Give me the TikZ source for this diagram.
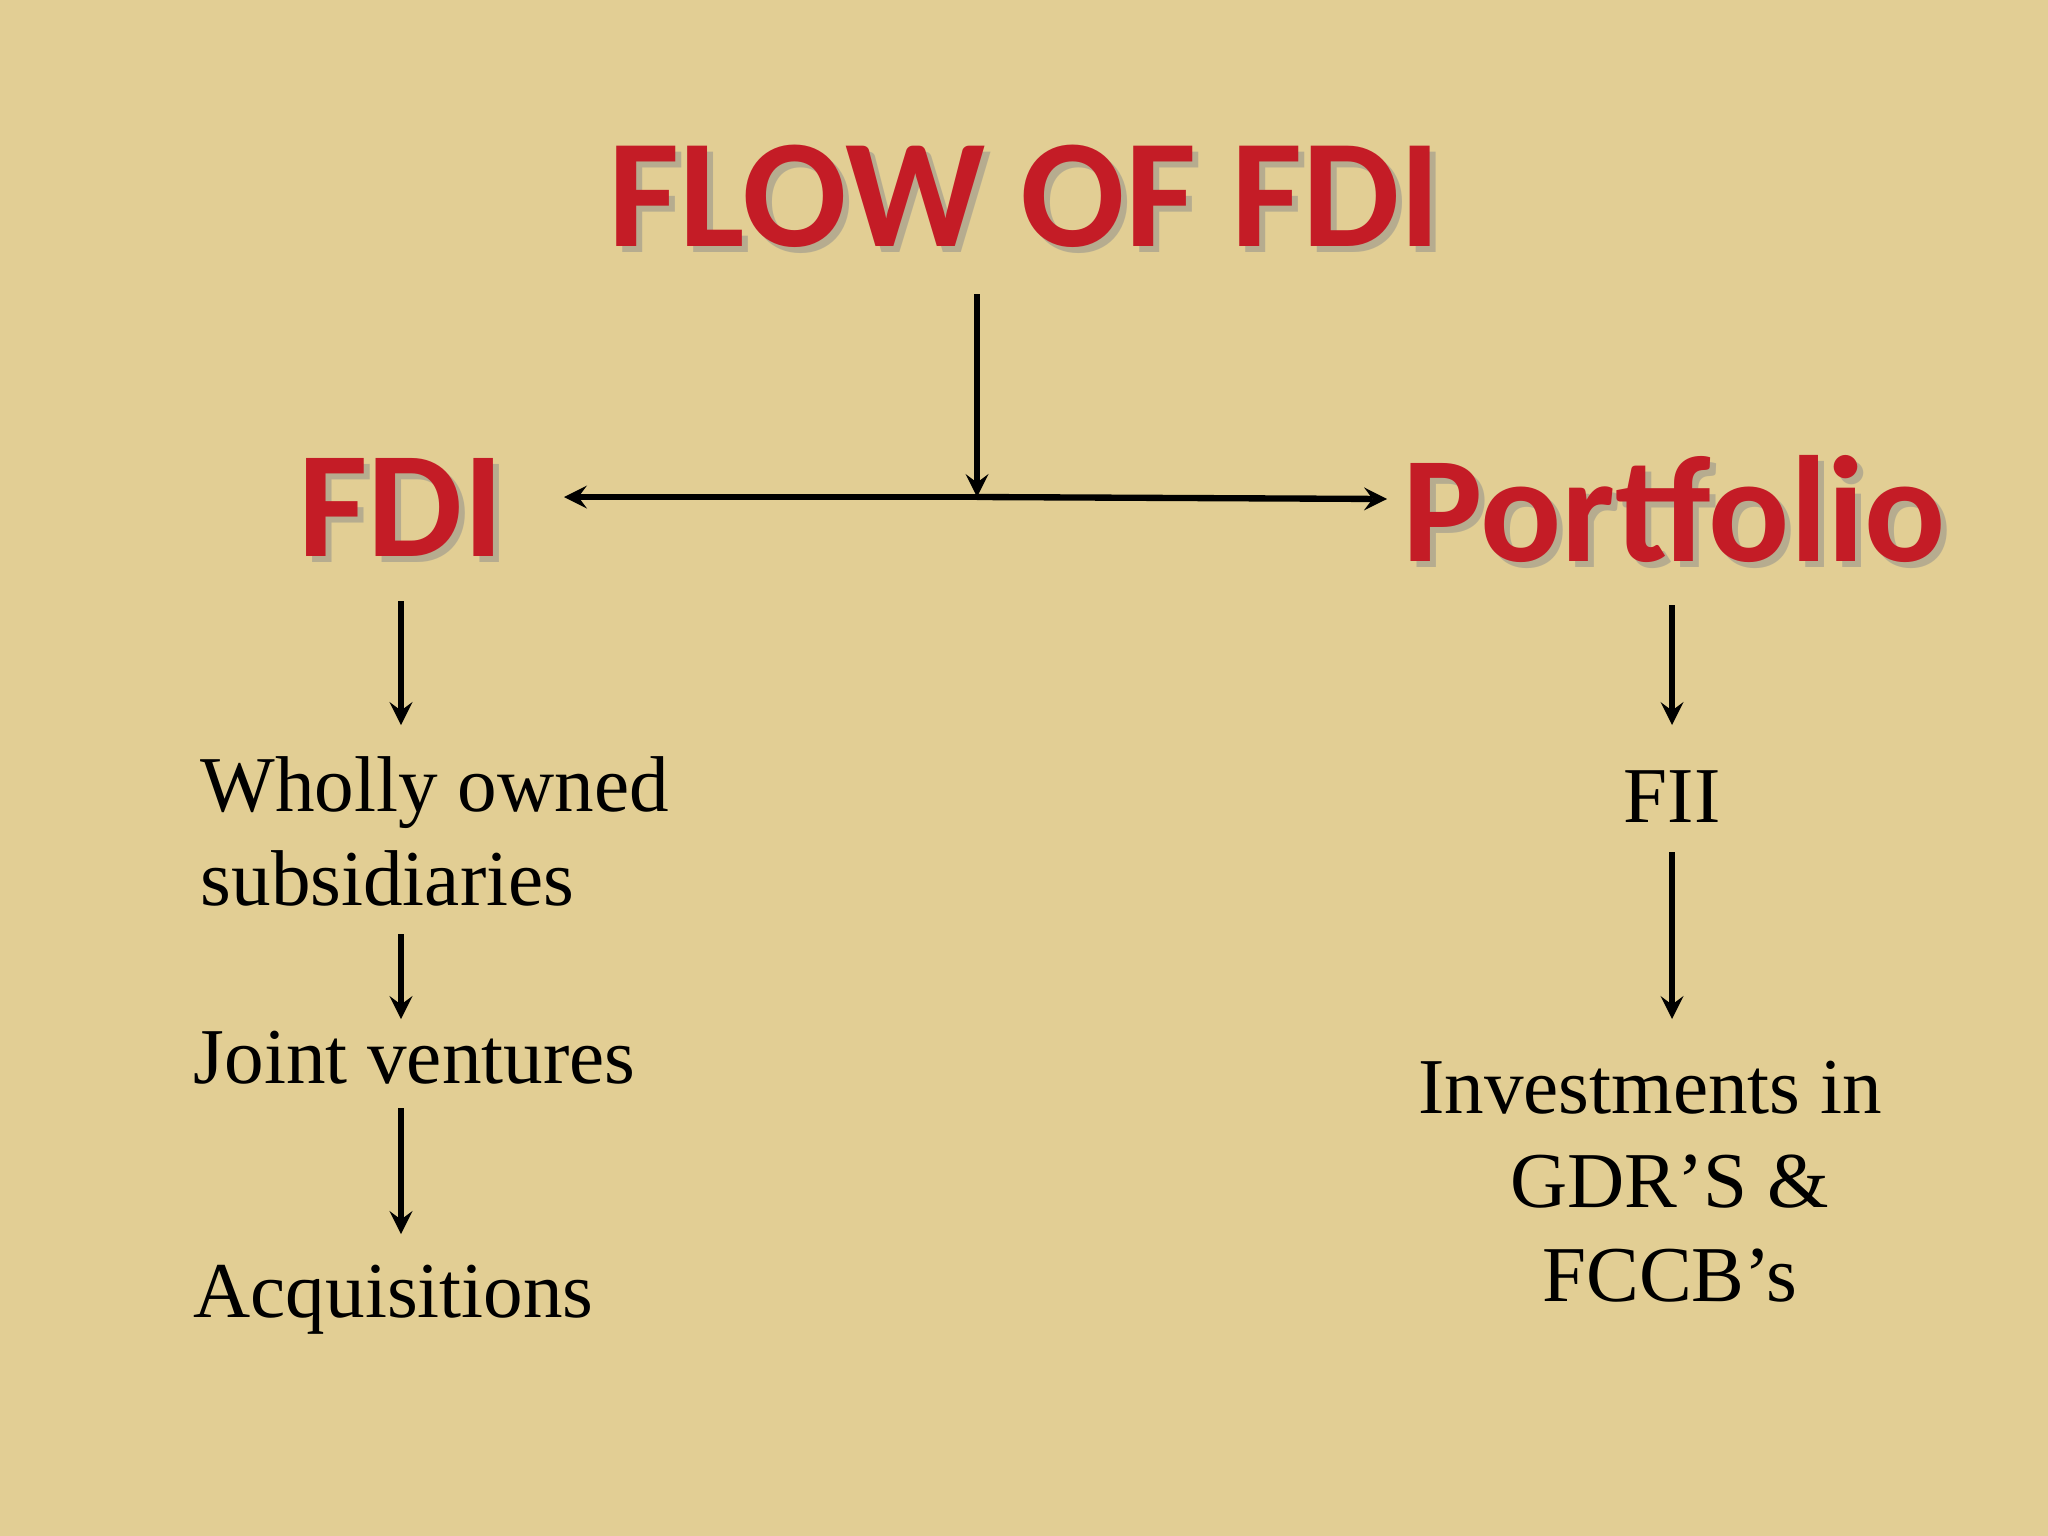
\documentclass[tikz,border=0pt]{standalone}
\usepackage{fontspec}
\setmainfont{Liberation Serif}
\newfontfamily\calfont{Carlito}
\begin{document}
\begin{tikzpicture}[x=0.01cm,y=-0.01cm,
  bg/.style={fill={rgb,255:red,226;green,206;blue,148}},
  ttl/.style={font=\calfont\bfseries\fontsize{44}{48}\selectfont, text={rgb,255:red,196;green,28;blue,38}},
  sh/.style={font=\calfont\bfseries\fontsize{44}{48}\selectfont, text=black!45, opacity=0.5},
  hd/.style={font=\calfont\bfseries\fontsize{43}{48}\selectfont, text={rgb,255:red,196;green,28;blue,38}},
  hsh/.style={font=\calfont\bfseries\fontsize{43}{48}\selectfont, text=black!45, opacity=0.5},
  body/.style={font=\fontsize{22.5}{26.7}\selectfont, inner sep=0pt},
  arr/.style={-stealth, line width=1.8pt, black}]
\fill[bg] (0,0) rectangle (2048,1536);
\useasboundingbox (0,0) rectangle (2048,1536);
\node[sh] at (1031,202) {FLOW OF FDI};
\node[ttl] (title) at (1025,196) {FLOW OF FDI};
\node[hsh] at (407,513) {FDI};
\node[hd] (fdi) at (401,507) {FDI};
\node[hsh] at (1680,515) {Portfolio};
\node[hd] (port) at (1674,509) {Portfolio};
\coordinate (t0) at (977,294);
\coordinate (j) at (977,497);
\coordinate (l) at (564,497);
\coordinate (r) at (1387,499);
\draw[arr] (t0) -- (j);
\draw[arr] (j) -- (l);
\draw[arr] (j) -- (r);
\node[body, anchor=west, align=left] (who) at (200,831) {Wholly owned\\subsidiaries};
\node[body, anchor=west] (jv) at (193,1058) {Joint ventures};
\node[body, anchor=west] (acq) at (193,1300) {Acquisitions};
\coordinate (a1) at (401,601); \coordinate (a2) at (401,725);
\coordinate (b1) at (401,934); \coordinate (b2) at (401,1019);
\coordinate (c1) at (401,1108); \coordinate (c2) at (401,1234);
\draw[arr] (a1) -- (a2);
\draw[arr] (b1) -- (b2);
\draw[arr] (c1) -- (c2);
\node[body] (fii) at (1672,797) {FII};
\node[body, align=center] (inv) at (1650,1182) {Investments in\\\hspace{0.5em}GDR’S \&\\\hspace{0.5em}FCCB’s};
\coordinate (d1) at (1672,605); \coordinate (d2) at (1672,725);
\coordinate (e1) at (1672,852); \coordinate (e2) at (1672,1019);
\draw[arr] (d1) -- (d2);
\draw[arr] (e1) -- (e2);
\end{tikzpicture}
\end{document}
